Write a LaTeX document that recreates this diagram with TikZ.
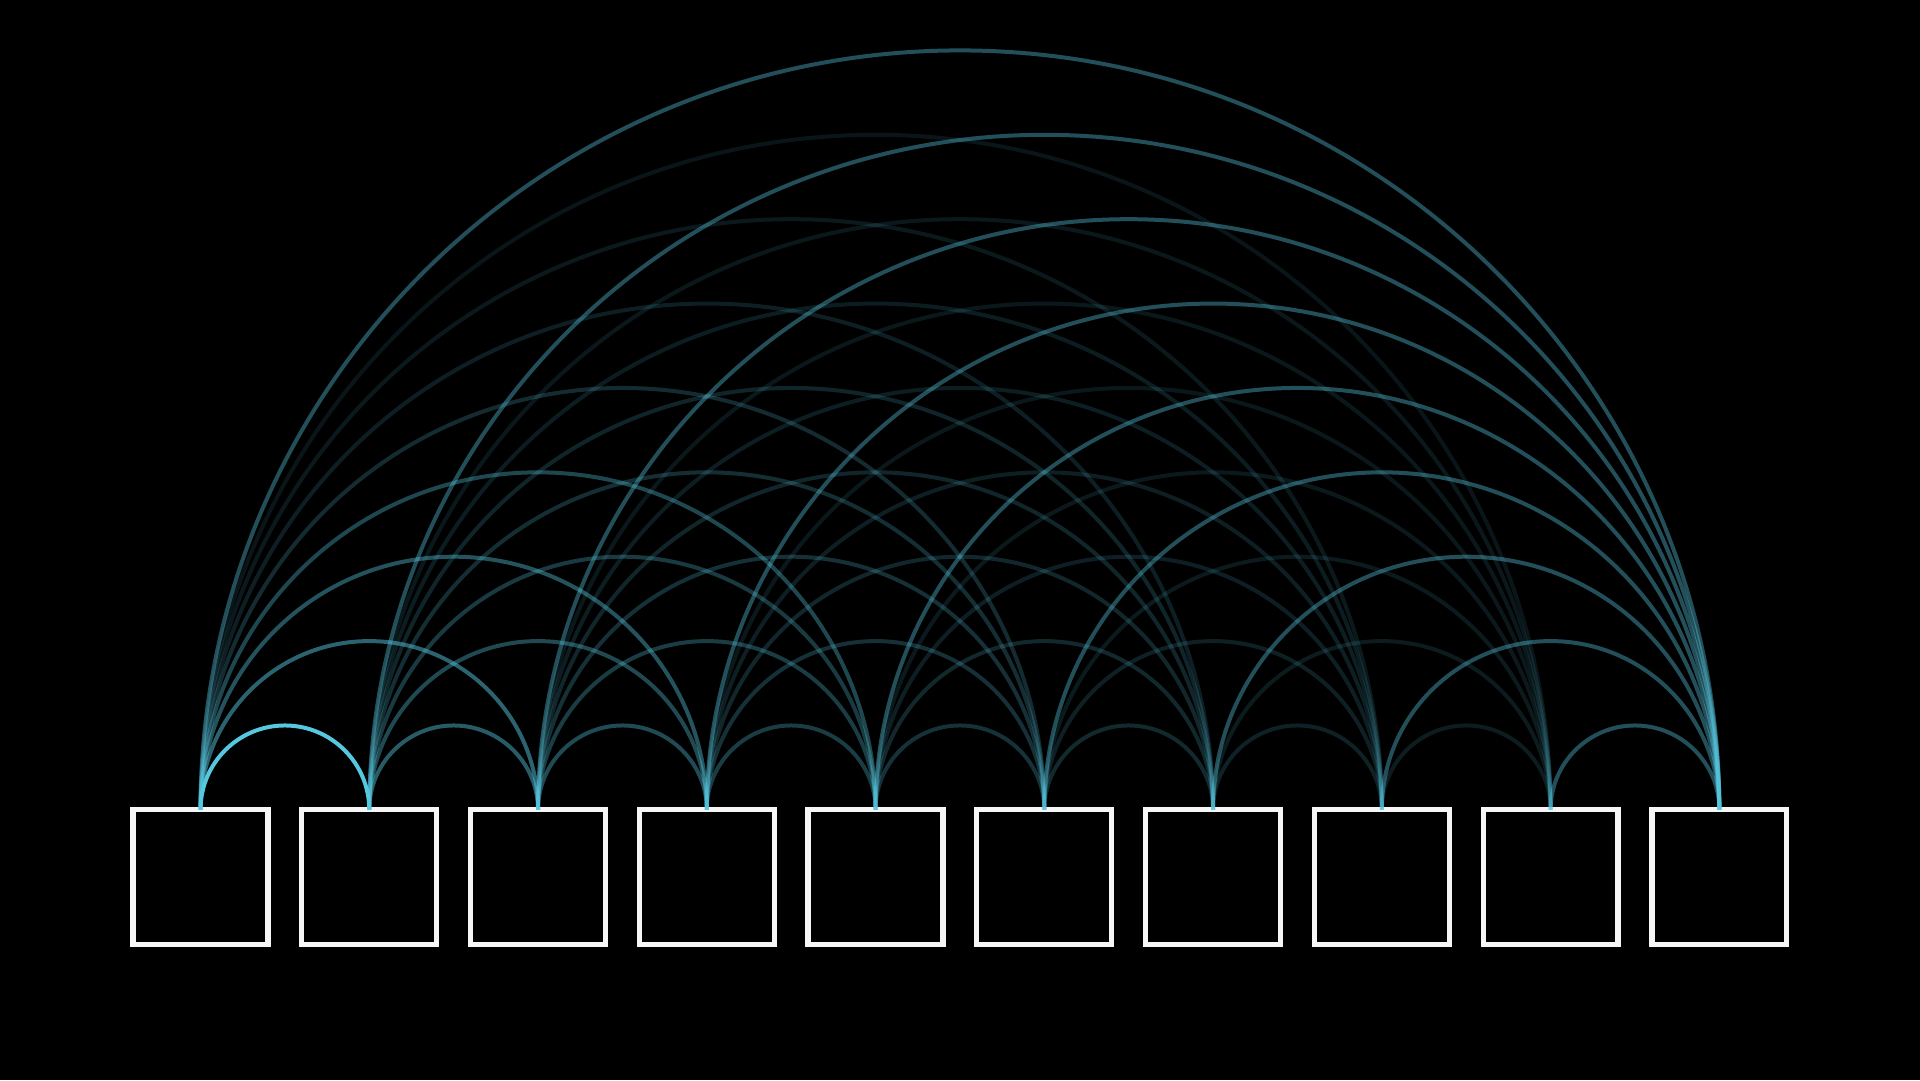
\documentclass[tikz,border=0pt]{standalone}
\usepackage{tikz}
\definecolor{arccyan}{RGB}{87,199,224}
\definecolor{boxwhite}{RGB}{246,246,246}
\begin{document}
\begin{tikzpicture}[x=1pt,y=1pt,
  cellbox/.style={draw=boxwhite, line width=5.2pt, minimum width=134.9pt, minimum height=134.9pt, inner sep=0pt, outer sep=0pt},
  arcline/.style={draw=arccyan, line width=4pt}]
\fill[black] (0,0) rectangle (1920,1080);
\useasboundingbox (0,0) rectangle (1920,1080);
\foreach \k in {1,...,10}{
  \node[cellbox] (n\k) at ({200.5+168.76*(\k-1)}, 202.7) {};
}
\foreach \i in {1,...,9}{
  \pgfmathtruncatemacro\ni{\i+1}
  \foreach \j in {\ni,...,10}{
    \pgfmathtruncatemacro\d{\j-\i}
    \ifnum\j=10
      \def\op{0.4}
    \else
      \ifnum\i=1
        \pgfmathsetmacro\op{{1,0.5,0.42,0.36,0.22,0.16,0.13,0.11,0.1}[\d-1]}
      \else
        \pgfmathsetmacro\op{max(0.09,0.46*(0.82^(\i-2))*(0.8^(\d-1)))}
      \fi
    \fi
    \pgfmathsetmacro\r{\d*84.38}
    \draw[arcline, draw opacity=\op] (n\i.north) arc[start angle=180, end angle=0, radius=\r pt];
  }
}
\end{tikzpicture}
\end{document}
